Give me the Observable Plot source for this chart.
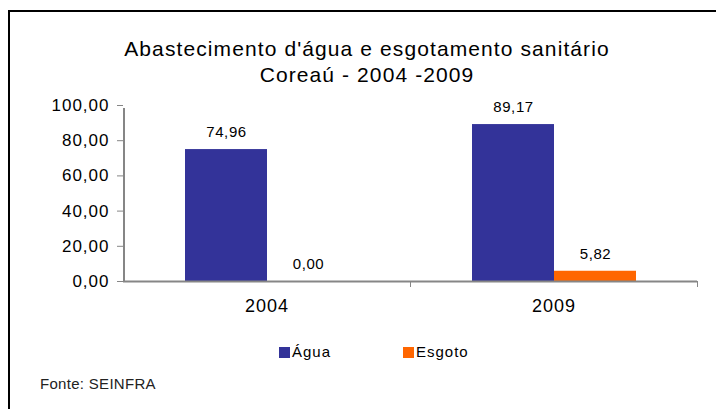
<!DOCTYPE html>
<html>
<head>
<meta charset="utf-8">
<script src="https://cdn.jsdelivr.net/npm/d3@7"></script>
<script src="https://cdn.jsdelivr.net/npm/@observablehq/plot@0.6"></script>
<style>
  body { margin: 0; background: #fff; font-family: "Liberation Sans", Arial, sans-serif; }
  #wrap { position: relative; width: 716px; height: 409px; overflow: hidden; background: #fff; }
  #frame { position: absolute; left: 8px; top: 10px; width: 900px; height: 600px;
           border-left: 2px solid #000; border-top: 2px solid #000; box-sizing: border-box; }
  #chart { position: absolute; left: 0; top: 0; }
  #title { position: absolute; left: 9px; width: 716px; top: 36px; text-align: center;
           font-size: 21px; line-height: 26px; letter-spacing: 1.1px; color: #000; }
  #legend { position: absolute; left: 279px; top: 344px; display: flex; font-size: 15px;
            line-height: 15px; letter-spacing: 1px; color: #000; }
  .item { display: flex; align-items: flex-end; width: 124px; }
  .sw { width: 11px; height: 11px; margin-right: 2px; margin-bottom: 1px; }
  #source { position: absolute; left: 40px; top: 376px; font-size: 15px; line-height: 15px;
            letter-spacing: 0.3px; color: #222; }
  g[aria-label="y-axis tick label"] text { letter-spacing: 1px; }
  g[aria-label="fx-axis tick label"] text { letter-spacing: 1px; }
  g[aria-label="text"] text { letter-spacing: 0.6px; }
</style>
</head>
<body>
<div id="wrap">
  <div id="frame"></div>
  <div id="chart"></div>
  <div id="title"></div>
  <div id="legend"></div>
  <div id="source"></div>
</div>
<script>
const titleLines = ["Abastecimento d'água e esgotamento sanitário", "Coreaú - 2004 -2009"];
const years = ["2004", "2009"];
const series = ["Água", "Esgoto"];
const agua = [74.96, 89.17];
const esgoto = [0.00, 5.82];
const colors = ["#333399", "#FF6600"];
const yTicks = [0, 20, 40, 60, 80, 100];
const source = "Fonte: SEINFRA";

const data = years.flatMap((yr, i) => [
  {year: yr, serie: series[0], value: agua[i]},
  {year: yr, serie: series[1], value: esgoto[i]}
]);
const fmt = d => d.toFixed(2).replace(".", ",");
const axisGray = "#868686";

const chart = Plot.plot({
  width: 716,
  height: 409,
  marginLeft: 123,
  marginRight: 19,
  marginTop: 105,
  marginBottom: 128,
  style: {fontFamily: '"Liberation Sans", Arial, sans-serif', color: "#000", background: "transparent", overflow: "visible"},
  fx: {domain: years, padding: 0, label: null, axis: null},
  x: {domain: series, paddingInner: 0, paddingOuter: 0.75, axis: null},
  y: {domain: [0, 100], label: null, axis: null},
  color: {domain: series, range: colors},
  marks: [
    Plot.barY(data, {fx: "year", x: "serie", y: "value", fill: "serie"}),
    Plot.ruleY([0], {stroke: axisGray, strokeWidth: 2}),
    // vertical value-axis line, drawn in the first category only, at the left edge of the frame
    Plot.ruleX([years[0]], {fx: d => d, x: () => series[0], y1: 0, y2: 100, dx: -102.5,
                            insetBottom: -3, stroke: axisGray, strokeWidth: 2}),
    Plot.axisY({ticks: yTicks, tickFormat: fmt, tickSize: 6, tickPadding: 8, fontSize: 17,
                stroke: axisGray, label: null}),
    Plot.axisFx({anchor: "bottom", tickSize: 0, tickPadding: 18, fontSize: 18, label: null}),
    Plot.axisFx({anchor: "bottom", tickSize: 6, text: null, dx: 143.5, stroke: axisGray, label: null}),
    Plot.text(data, {fx: "year", x: "serie", y: "value", text: d => fmt(d.value), dy: -17,
                     fontSize: 15, fill: "#000"})
  ]
});
document.getElementById("chart").appendChild(chart);

document.getElementById("title").innerHTML = titleLines.map(t => `<div>${t}</div>`).join("");
document.getElementById("legend").innerHTML = series.map((s, i) =>
  `<div class="item"><div class="sw" style="background:${colors[i]}"></div><span>${s}</span></div>`).join("");
document.getElementById("source").textContent = source;
</script>
</body>
</html>
